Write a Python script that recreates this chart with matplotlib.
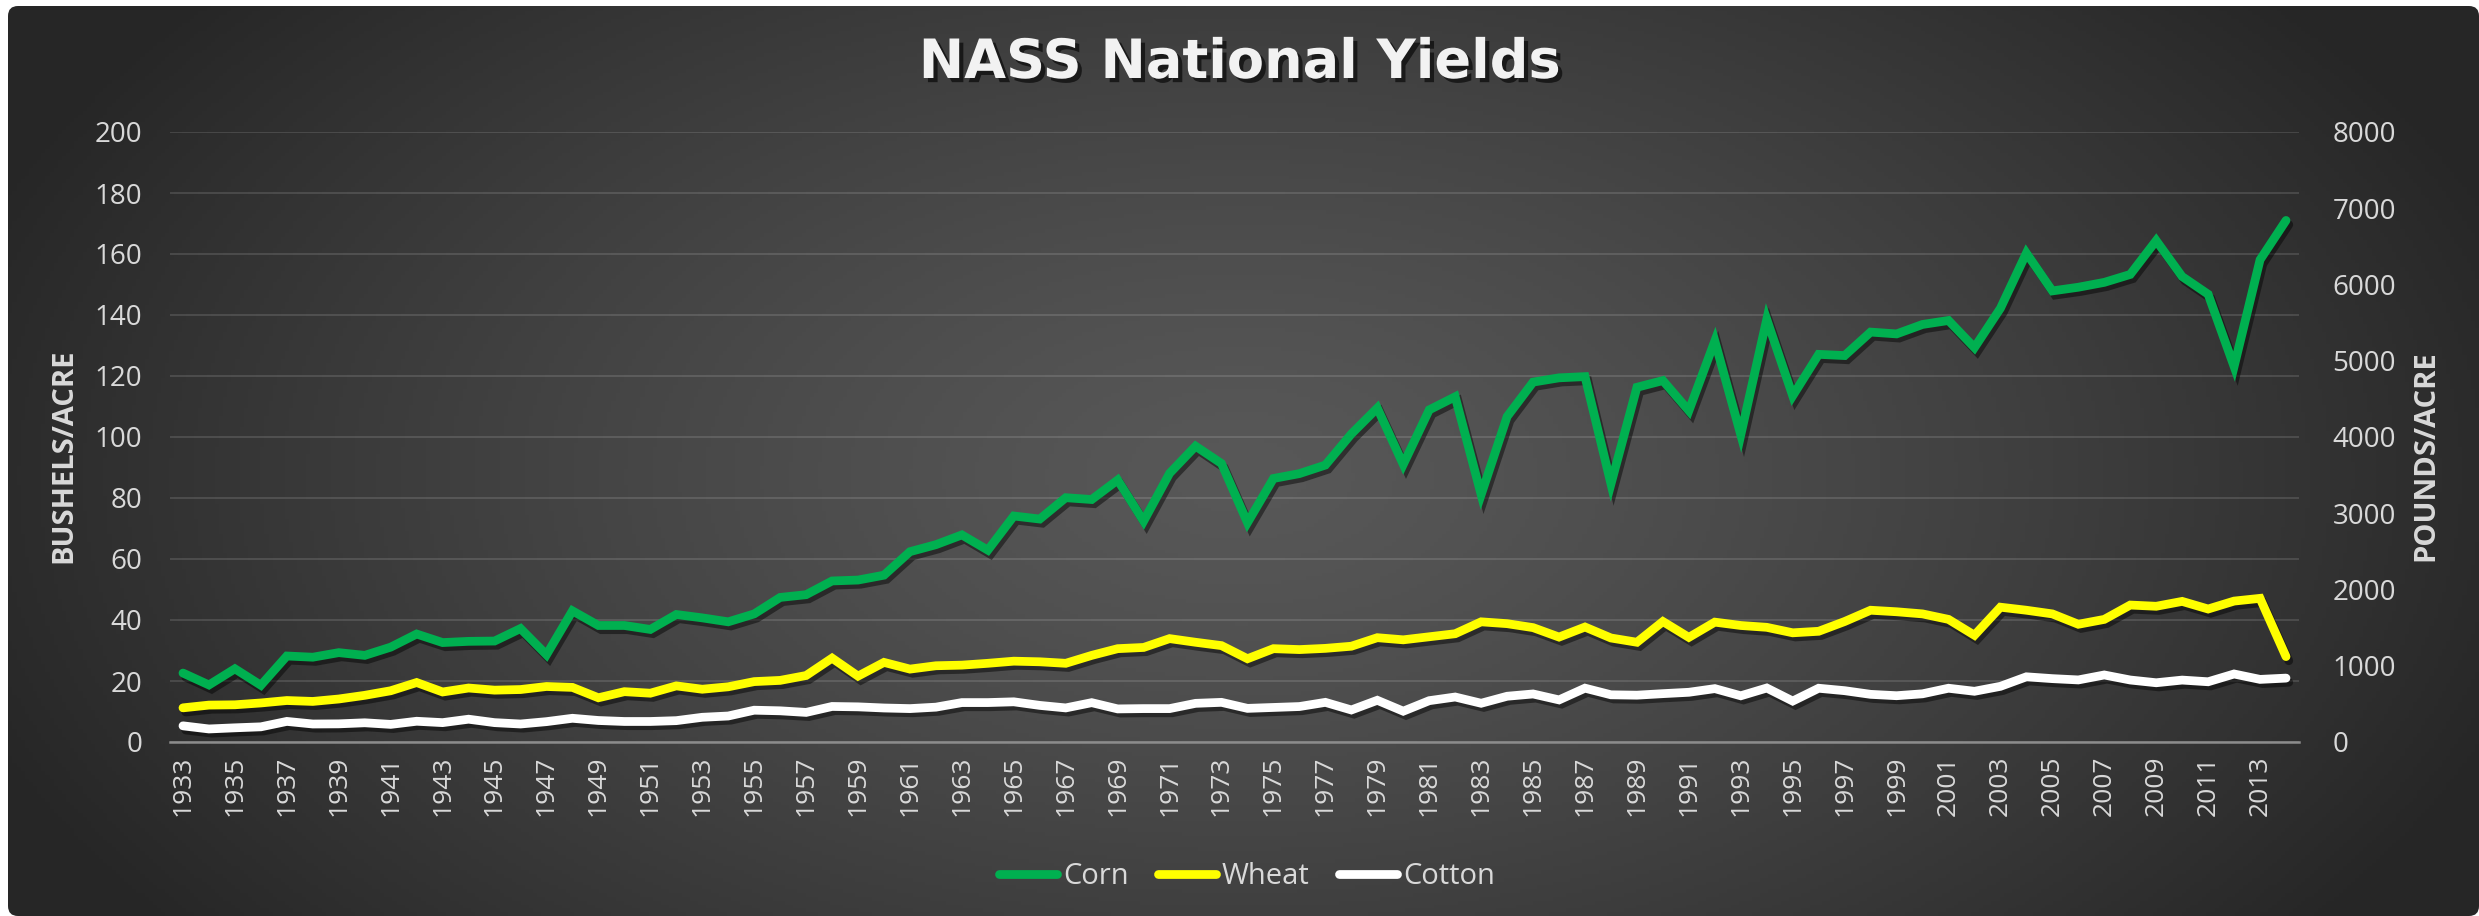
import numpy as np
import matplotlib
matplotlib.use('Agg')
import matplotlib.pyplot as plt
import matplotlib.patheffects as pe
from matplotlib.patches import FancyBboxPatch

# Datos (NASS, rendimientos nacionales)
years = list(range(1933, 2015))
corn = [22.6, 18.7, 24.0, 18.6, 28.2, 27.8, 29.3, 28.4, 31.1, 35.4,
        32.6, 33.0, 33.1, 37.2, 28.6, 43.0, 38.2, 38.2, 36.9, 41.8,
        40.7, 39.4, 42.0, 47.4, 48.3, 52.8, 53.1, 54.7, 62.4, 64.7,
        67.9, 62.9, 74.1, 73.1, 80.1, 79.5, 85.9, 72.4, 88.1, 97.0,
        91.3, 71.9, 86.4, 88.0, 90.8, 101.0, 109.5, 91.0, 108.9, 113.2,
        81.1, 106.7, 118.0, 119.4, 119.8, 84.6, 116.3, 118.5, 108.6, 131.5,
        100.7, 138.6, 113.5, 127.1, 126.7, 134.4, 133.8, 136.9, 138.2, 129.3,
        142.2, 160.3, 147.9, 149.1, 150.7, 153.3, 164.4, 152.6, 146.8, 123.1,
        158.1, 171.0]
wheat = [11.2, 12.1, 12.2, 12.8, 13.6, 13.3, 14.1, 15.3, 16.8, 19.5,
         16.4, 17.7, 17.0, 17.2, 18.2, 17.9, 14.5, 16.5, 16.0, 18.4,
         17.3, 18.1, 19.8, 20.2, 21.8, 27.5, 21.6, 26.1, 23.9, 25.0,
         25.2, 25.8, 26.5, 26.3, 25.8, 28.4, 30.6, 31.0, 33.9, 32.7,
         31.6, 27.3, 30.6, 30.3, 30.7, 31.4, 34.2, 33.5, 34.5, 35.5,
         39.4, 38.8, 37.5, 34.4, 37.7, 34.1, 32.7, 39.5, 34.3, 39.3,
         38.2, 37.6, 35.8, 36.3, 39.5, 43.2, 42.7, 42.0, 40.2, 35.0,
         44.2, 43.2, 42.0, 38.6, 40.2, 44.9, 44.5, 46.1, 43.6, 46.2,
         47.1, 28.0]
cotton = [212, 171, 186, 199, 270, 236, 238, 252, 231, 272,
          254, 299, 254, 236, 267, 311, 282, 269, 269, 280,
          324, 341, 417, 409, 388, 466, 461, 446, 438, 457,
          517, 517, 527, 480, 447, 516, 434, 438, 438, 507,
          520, 441, 453, 465, 520, 420, 547, 404, 542, 590,
          508, 600, 630, 552, 706, 619, 614, 634, 652, 700,
          606, 708, 537, 705, 673, 625, 607, 632, 705, 665,
          730, 855, 831, 814, 879, 813, 777, 812, 790, 892,
          821, 838]

W, H = 2479, 916
fig = plt.figure(figsize=(W / 100, H / 100), dpi=100, facecolor='white')

# Fondo con degradado radial y esquinas redondeadas
bg = fig.add_axes([0, 0, 1, 1])
bg.set_xlim(0, W)
bg.set_ylim(0, H)
bg.axis('off')
gx, gy = np.meshgrid(np.linspace(0, W, 600), np.linspace(0, H, 240))
r = np.sqrt(((gx - 1240) / 1350) ** 2 + ((gy - 440) / 760) ** 2)
r = np.clip(r, 0, 1)
v = (0x58 - (0x58 - 0x26) * r ** 1.3) / 255
img = np.dstack([v, v, v])
im = bg.imshow(img, extent=(0, W, 0, H), origin='lower', aspect='auto')
box = FancyBboxPatch((8, 0), W - 8, H - 6, boxstyle='round,pad=0,rounding_size=10',
                     facecolor='none', edgecolor='none', transform=bg.transData)
bg.add_patch(box)
im.set_clip_path(box)

txt = '#d9d9d9'
ax = fig.add_axes([170 / W, 1 - 742 / H, (2299 - 170) / W, (742 - 132) / H])
ax.patch.set_alpha(0)
x = np.arange(len(years))
shadow = [pe.SimpleLineShadow(offset=(2, -3), shadow_color='black', alpha=0.45), pe.Normal()]
lw = 6.3
l1, = ax.plot(x, corn, color='#00b050', lw=lw, solid_joinstyle='miter',
              solid_capstyle='round', path_effects=shadow, label='Corn', zorder=3)
l2, = ax.plot(x, wheat, color='#ffff00', lw=lw, solid_joinstyle='miter',
              solid_capstyle='round', path_effects=shadow, label='Wheat', zorder=3)
ax.set_xlim(-0.5, len(years) - 0.5)
ax.set_ylim(0, 200)
ax.set_yticks(range(0, 201, 20))
ax.set_xticks(x[::2])
ax.set_xticklabels([str(y) for y in years[::2]], rotation=90)
ax.grid(axis='y', color='white', alpha=0.13, lw=1.4)
for s in ['top', 'right', 'left']:
    ax.spines[s].set_visible(False)
ax.spines['bottom'].set_color('#8c8c8c')
ax.spines['bottom'].set_linewidth(1.8)
ax.tick_params(axis='both', length=0, colors=txt)
ax.tick_params(axis='y', labelsize=20, pad=20)
ax.tick_params(axis='x', labelsize=19, pad=10)
for t in ax.get_yticklabels() + ax.get_xticklabels():
    t.set_fontfamily('Open Sans')
ax.set_ylabel('BUSHELS/ACRE', fontsize=21, fontweight='bold', color=txt,
              family='Open Sans', va='center')
ax.yaxis.set_label_coords(-0.050, 0.47)

ax2 = ax.twinx()
l3, = ax2.plot(x, cotton, color='white', lw=lw, solid_joinstyle='miter',
               solid_capstyle='round', path_effects=shadow, label='Cotton', zorder=3)
ax2.set_ylim(0, 8000)
ax2.set_yticks(range(0, 8001, 1000))
for s in ax2.spines.values():
    s.set_visible(False)
ax2.tick_params(axis='y', length=0, colors=txt, labelsize=20, pad=24)
for t in ax2.get_yticklabels():
    t.set_fontfamily('Open Sans')
ax2.set_ylabel('POUNDS/ACRE', fontsize=21, fontweight='bold', color=txt,
               family='Open Sans', va='center')
ax2.yaxis.set_label_coords(1.0596, 0.47)

fig.text(0.5, 1 - 63 / H, 'NASS National Yields', ha='center', va='center',
         fontsize=39, fontweight='bold', color='#f2f2f2', family='DejaVu Sans',
         path_effects=[pe.SimplePatchShadow(offset=(3, -3), shadow_rgbFace='black', alpha=0.6),
                       pe.Normal()])

leg = fig.legend(handles=[l1, l2, l3], loc='center', bbox_to_anchor=(0.503, 1 - 877 / H),
                 ncol=3, frameon=False, handlelength=2.0, handletextpad=0.2,
                 columnspacing=1.0, prop={'family': 'Open Sans', 'size': 21})
for t in leg.get_texts():
    t.set_color(txt)
for h in leg.legend_handles:
    h.set_path_effects([])

fig.savefig('out.png', dpi=100, facecolor='white')
